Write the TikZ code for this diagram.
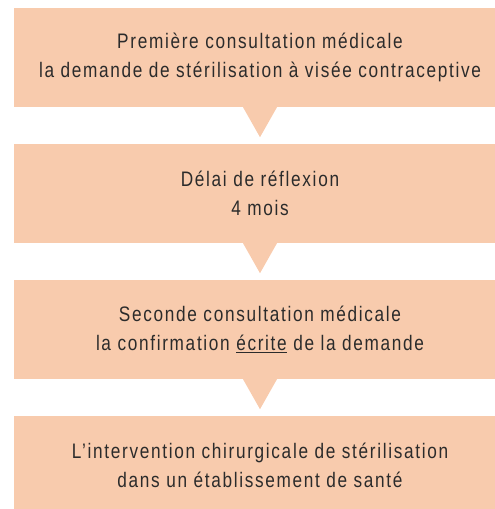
\documentclass[tikz,border=0pt]{standalone}
\usepackage{fontspec}
\newfontfamily\condfont[FakeStretch=0.82,LetterSpace=8]{Liberation Sans}
\definecolor{peach}{HTML}{F8CBAD}
\definecolor{ink}{HTML}{2B2B2B}
\begin{document}
\begin{tikzpicture}[x=1pt,y=1pt,
  stepbox/.style={fill=peach,minimum width=492pt,minimum height=99pt,inner sep=0pt,
    align=center,text=ink,font=\condfont\fontsize{21}{28.5}\selectfont},
  pointer/.style={fill=peach}]
\useasboundingbox (0,0) rectangle (495,509);
\clip (0,0) rectangle (495,509);
\node[stepbox] (b1) at (260,451.5) {Première consultation médicale\\la demande de stérilisation à visée contraceptive};
\node[stepbox] (b2) at (260,315.5) {Délai de réflexion\\4 mois};
\node[stepbox] (b3) at (260,179.5) {Seconde consultation médicale\\la confirmation \underline{écrite} de la demande};
\node[stepbox] (b4) at (260,43.5) {L’intervention chirurgicale de stérilisation\\dans un établissement de santé};
\foreach \n in {b1,b2,b3}{
  \fill[pointer] ([xshift=-17pt]\n.south) -- ([xshift=17pt]\n.south) -- ([yshift=-30pt]\n.south) -- cycle;
}
\end{tikzpicture}
\end{document}
